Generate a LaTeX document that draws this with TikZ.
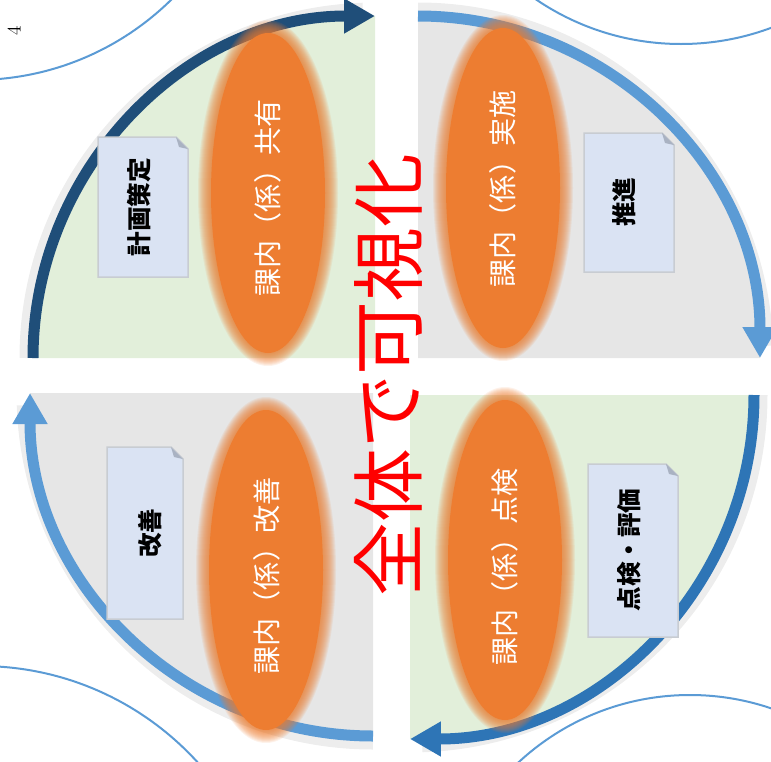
\documentclass[tikz,border=0pt]{standalone}
\usepackage{fontspec}
\newfontfamily\jp{Noto Sans CJK JP}
\usetikzlibrary{arrows.meta}
\definecolor{pdgreen}{HTML}{E2EFDA}
\definecolor{pdgray}{HTML}{E6E6E6}
\definecolor{navy}{HTML}{1F4E79}
\definecolor{skyblue}{HTML}{5B9BD5}
\definecolor{midblue}{HTML}{2E75B6}
\definecolor{pdorange}{HTML}{ED7D31}
\definecolor{memofill}{HTML}{DAE3F3}
\definecolor{memoline}{HTML}{C8CCD2}
\definecolor{memofold}{HTML}{A9B2C2}

\begin{document}
\begin{tikzpicture}[x=0.02cm,y=-0.02cm,
    cyclearrow/.style={line width=0.22cm,-{Triangle[length=0.62cm,width=0.66cm]}},
    glow/.style={black,opacity=0.07,line width=0.26cm},
    ring/.style={skyblue,line width=0.04cm},
    blob/.style={pdorange,opacity=0.1},
    memo/.style={fill=memofill,draw=memoline,line width=0.03cm},
    fold/.style={fill=memofold},
    inner/.style={white,rotate=90,font=\jp\fontsize{16}{16}\selectfont},
    memotext/.style={black,rotate=90,font=\jp\bfseries\fontsize{14}{14}\selectfont},
    title/.style={red,rotate=90,font=\jp\fontsize{42}{42}\selectfont}]
  \useasboundingbox (0,0) rectangle (771,761);
  \clip (0,0) rectangle (771,761);
  % rings of the neighbouring cycles
  \draw[ring] (-25,-200) circle[radius=280] (681,-214) circle[radius=258]
    (-20,960) circle[radius=294] (690,947) circle[radius=252];
  % quadrants
  \fill[pdgreen] (375,358) -- (33,358) arc[start angle=180,end angle=270,radius=342] -- cycle;
  \fill[pdgray] (418,358) -- (418,16) arc[start angle=270,end angle=360,radius=342] -- cycle;
  \fill[pdgreen] (410,395) -- (754,395) arc[start angle=0,end angle=90,radius=344] -- cycle;
  \fill[pdgray] (373,393) -- (373,736) arc[start angle=90,end angle=180,radius=343] -- cycle;
  % shadows and arrows
  \draw[glow] (26,358) arc[start angle=180,end angle=268,radius=349];
  \draw[glow] (418,9) arc[start angle=270,end angle=358,radius=349];
  \draw[glow] (761,395) arc[start angle=0,end angle=88,radius=351];
  \draw[glow] (373,743) arc[start angle=90,end angle=178,radius=350];
  \draw[navy,cyclearrow] (33,358) arc[start angle=180,end angle=270,radius=342];
  \draw[skyblue,cyclearrow] (418,16) arc[start angle=270,end angle=360,radius=342];
  \draw[midblue,cyclearrow] (754,395) arc[start angle=0,end angle=90,radius=344];
  \draw[skyblue,cyclearrow] (373,736) arc[start angle=90,end angle=180,radius=343];
  % soft orange ellipses
  \foreach \cx/\cy in {268/193,503/188,266/570,505/560} {
    \foreach \k in {13,12,...,1}
      \fill[blob] (\cx,\cy) ellipse[x radius={57+\k},y radius={160+\k}];
    \fill[pdorange] (\cx,\cy) ellipse[x radius=57,y radius=160];
  }
  % memo sheets
  \foreach \xa/\ya/\xb/\yb in {98/137/188/277,584/133/674/272,107/447/183/619,588/464/678/637} {
    \filldraw[memo] (\xa,\ya) -- ({\xb-12},\ya) -- (\xb,{\ya+12}) -- (\xb,\yb) -- (\xa,\yb) -- cycle;
    \fill[fold] ({\xb-12},\ya) -- (\xb,{\ya+12}) -- ({\xb-9},{\ya+10}) -- cycle;
  }
  \node[memotext] (plan) at (139,207) {計画策定};
  \node[memotext] (do) at (624,202) {推進};
  \node[memotext] (check) at (629,550) {点検・評価};
  \node[memotext] (act) at (150,533) {改善};
  \node[inner] (share) at (268,198) {課内（係）共有};
  \node[inner] (run) at (503,189) {課内（係）実施};
  \node[inner] (inspect) at (505,567) {課内（係）点検};
  \node[inner] (improve) at (267,576) {課内（係）改善};
  \node[title] (whole) at (388,375) {全体で可視化};
  \node[rotate=90,font=\fontsize{11}{11}\selectfont] (page) at (14,31) {4};
\end{tikzpicture}
\end{document}
